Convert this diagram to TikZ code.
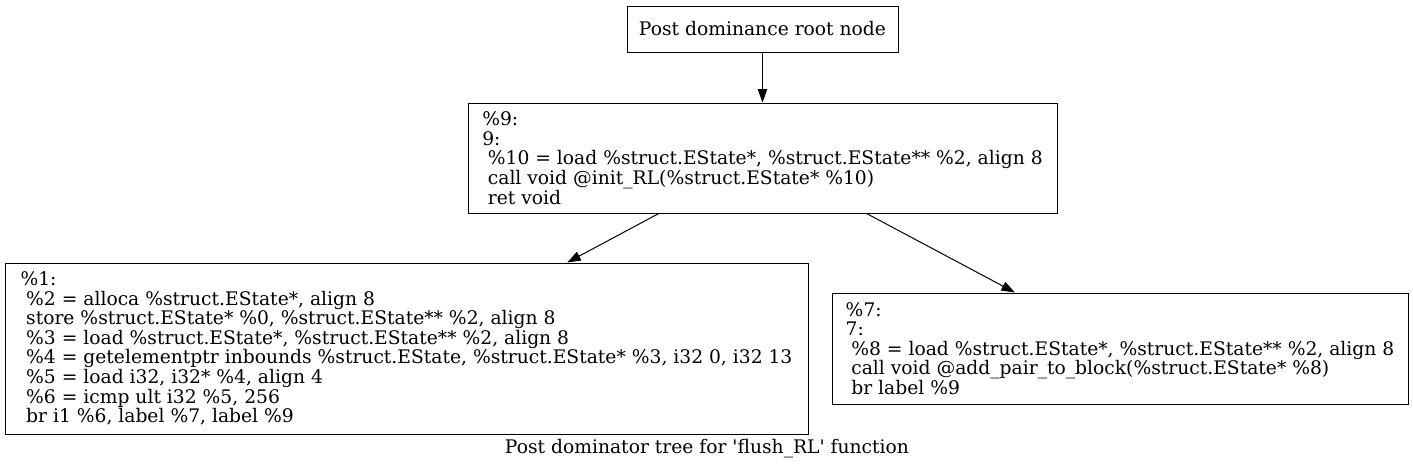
\documentclass[tikz,border=0pt]{standalone}
\usepackage{fontspec}
\setmainfont{DejaVu Serif}
\usepackage{tikz}
\usetikzlibrary{arrows.meta}
\newcommand{\irind}{\hspace*{0.3em}}

\begin{document}
\begin{tikzpicture}[
  x=1pt, y=-1pt,
  bbnode/.style={draw, line width=1pt, inner sep=0pt, align=left,
    font=\fontsize{18.7}{19.6}\selectfont},
  arr/.style={-{Triangle[length=13.5pt, width=9.5pt]}, line width=1pt},
  captext/.style={font=\fontsize{18.7}{19.6}\selectfont}
]
\useasboundingbox (0,0) rectangle (1413,471);

\node[bbnode, minimum width=271pt, minimum height=46pt] (Root) at (762.5, 29) {Post dominance root node};

\node[bbnode, minimum width=589pt, minimum height=110pt] (B9) at (762.5, 158)
  {\%9:\\
   9:\\
   \irind\%10 = load \%struct.EState*, \%struct.EState** \%2, align 8\\
   \irind call void @init\_RL(\%struct.EState* \%10)\\
   \irind ret void};

\node[bbnode, minimum width=803pt, minimum height=171pt] (B1) at (406.5, 348.5)
  {\%1:\\
   \irind\%2 = alloca \%struct.EState*, align 8\\
   \irind store \%struct.EState* \%0, \%struct.EState** \%2, align 8\\
   \irind\%3 = load \%struct.EState*, \%struct.EState** \%2, align 8\\
   \irind\%4 = getelementptr inbounds \%struct.EState, \%struct.EState* \%3, i32 0, i32 13\\
   \irind\%5 = load i32, i32* \%4, align 4\\
   \irind\%6 = icmp ult i32 \%5, 256\\
   \irind br i1 \%6, label \%7, label \%9};

\node[bbnode, minimum width=576pt, minimum height=111pt] (B7) at (1120, 348.5)
  {\%7:\\
   7:\\
   \irind\%8 = load \%struct.EState*, \%struct.EState** \%2, align 8\\
   \irind call void @add\_pair\_to\_block(\%struct.EState* \%8)\\
   \irind br label \%9};

\node[captext] (Caption) at (707, 449) {Post dominator tree for \textquotesingle flush\_RL\textquotesingle{} function};

\draw[arr] (Root) -- (B9);
\draw[arr] (B9) -- (B1);
\draw[arr] (B9) -- (B7);

\end{tikzpicture}
\end{document}
